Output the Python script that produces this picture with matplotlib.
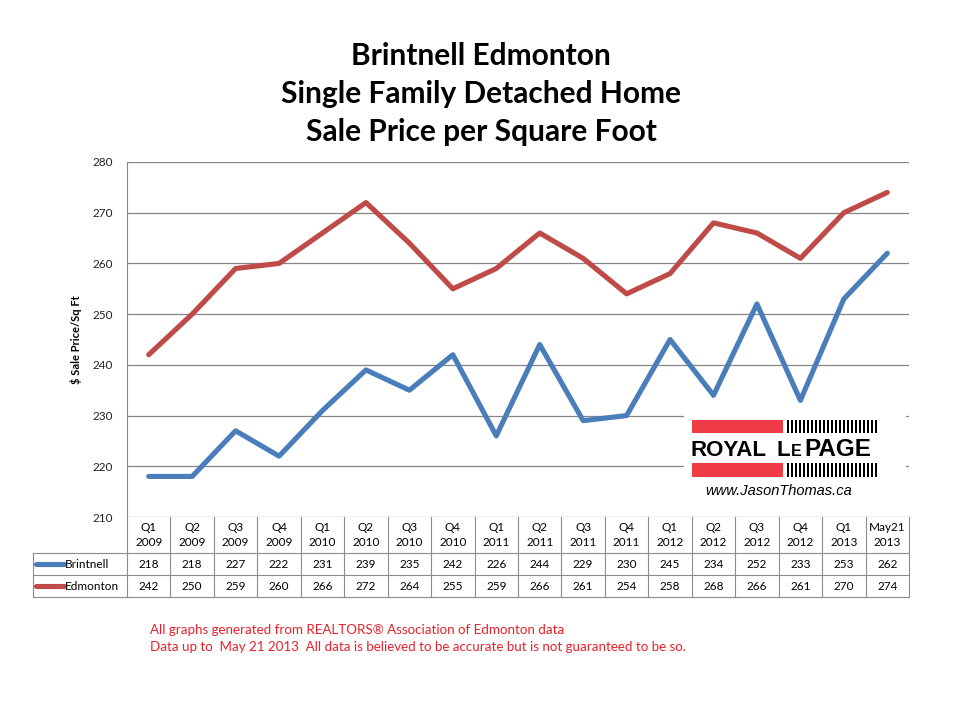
import matplotlib.pyplot as plt
from matplotlib.patches import Rectangle
from matplotlib.lines import Line2D

plt.rcParams['font.family'] = ['Lato', 'DejaVu Sans']

# chart data
periods = ["Q1\n2009", "Q2\n2009", "Q3\n2009", "Q4\n2009",
           "Q1\n2010", "Q2\n2010", "Q3\n2010", "Q4\n2010",
           "Q1\n2011", "Q2\n2011", "Q3\n2011", "Q4\n2011",
           "Q1\n2012", "Q2\n2012", "Q3\n2012", "Q4\n2012",
           "Q1\n2013", "May21\n2013"]
brintnell = [218, 218, 227, 222, 231, 239, 235, 242, 226, 244, 229, 230, 245, 234, 252, 233, 253, 262]
edmonton = [242, 250, 259, 260, 266, 272, 264, 255, 259, 266, 261, 254, 258, 268, 266, 261, 270, 274]
series_names = ["Brintnell", "Edmonton"]
colors = ["#4a7ebb", "#be4b48"]

W, H = 960, 720
fig = plt.figure(figsize=(9.6, 7.2), dpi=100)

# pixel helpers
def fx(px):
    return px / W

def fy(py):
    return 1 - py / H

left, right, top, bottom = 127, 909, 162, 517
ax = fig.add_axes([fx(left), fy(bottom), fx(right) - fx(left), fy(top) - fy(bottom)])

x = range(len(periods))
ax.plot(x, brintnell, color=colors[0], lw=3.7, solid_capstyle='round', zorder=3)
ax.plot(x, edmonton, color=colors[1], lw=3.7, solid_capstyle='round', zorder=3)

ax.set_xlim(-0.5, len(periods) - 0.5)
ax.set_ylim(210, 280)
ax.set_yticks(range(210, 281, 10))
ax.yaxis.grid(True, color="#868686", lw=0.9)
ax.set_axisbelow(True)
ax.set_xticks([])
ax.tick_params(axis='y', length=0, labelsize=8.5, pad=10, labelcolor="#222222")
for s in ['top', 'right', 'bottom']:
    ax.spines[s].set_visible(False)
ax.spines['left'].set_color("#868686")
ax.set_ylabel("$ Sale Price/Sq Ft", fontsize=8, fontweight='bold', labelpad=8)

# title
for i, line in enumerate(["Brintnell Edmonton", "Single Family Detached Home",
                          "Sale Price per Square Foot"]):
    fig.text(fx(481), fy(56 + i * 38), line, ha='center', va='center',
             fontsize=21.5, fontweight='bold')

# data table under the axes
grid_c = "#8c8c8c"
col_w = (right - left) / len(periods)
row_edges = [517, 553, 575, 597]
table_left = 33

def hline(y0, x0, x1):
    fig.add_artist(Line2D([fx(x0), fx(x1)], [fy(y0), fy(y0)], color=grid_c, lw=0.8))

def vline(xp, y0, y1):
    fig.add_artist(Line2D([fx(xp), fx(xp)], [fy(y0), fy(y1)], color=grid_c, lw=0.8))

hline(row_edges[1], table_left, right)
hline(row_edges[2], table_left, right)
hline(row_edges[3], table_left, right)
vline(table_left, row_edges[1], row_edges[3])
for i in range(len(periods) + 1):
    vline(left + i * col_w, row_edges[0], row_edges[3])

for i, p in enumerate(periods):
    cx = left + (i + 0.5) * col_w
    fig.text(fx(cx), fy((row_edges[0] + row_edges[1]) / 2), p, ha='center', va='center',
             fontsize=8.5, linespacing=1.35)
    for r, vals in enumerate([brintnell, edmonton]):
        fig.text(fx(cx), fy((row_edges[r + 1] + row_edges[r + 2]) / 2), str(vals[i]),
                 ha='center', va='center', fontsize=8.5)

for r, name in enumerate(series_names):
    cy = (row_edges[r + 1] + row_edges[r + 2]) / 2
    fig.add_artist(Line2D([fx(36), fx(64)], [fy(cy), fy(cy)], color=colors[r], lw=3.7,
                          solid_capstyle='round'))
    fig.text(fx(65), fy(cy), name, ha='left', va='center', fontsize=8.5)

# logo
fig.add_artist(Rectangle((fx(684), fy(506)), fx(906) - fx(684), fy(404) - fy(506),
                         facecolor='white', edgecolor='none', zorder=5))
red = "#ee3b45"
for y0, y1 in [(420, 433), (463, 477)]:
    fig.add_artist(Rectangle((fx(692), fy(y1)), fx(783) - fx(692), fy(y0) - fy(y1),
                             facecolor=red, edgecolor='none', zorder=6))
    for k in range(23):
        xs = 787 + k * 4
        fig.add_artist(Rectangle((fx(xs), fy(y1)), fx(2), fy(y0) - fy(y1),
                                 facecolor='black', edgecolor='none', zorder=6))
logo_font = ['Liberation Sans', 'DejaVu Sans']
fig.text(fx(691), fy(450), "ROYAL", ha='left', va='center', fontsize=16,
         fontweight='bold', zorder=7, family=logo_font)
fig.text(fx(776), fy(450), "L", ha='left', va='center', fontsize=16,
         fontweight='bold', zorder=7, family=logo_font)
fig.text(fx(791), fy(451.5), "E", ha='left', va='center', fontsize=11.5,
         fontweight='bold', zorder=7, family=logo_font)
fig.text(fx(804), fy(450), "PAGE", ha='left', va='center', fontsize=17.5,
         fontweight='bold', zorder=7, family=logo_font)
fig.text(fx(705), fy(491), "www.JasonThomas.ca", ha='left', va='center', fontsize=10.5,
         style='italic', zorder=7, family=logo_font)

# footnote
fig.text(fx(150), fy(630), "All graphs generated from REALTORS\u00ae Association of Edmonton data",
         color="#e8202a", fontsize=9.6, va='center')
fig.text(fx(150), fy(647), "Data up to  May 21 2013  All data is believed to be accurate but is not guaranteed to be so.",
         color="#e8202a", fontsize=9.6, va='center')

plt.savefig("out.png", dpi=100)
